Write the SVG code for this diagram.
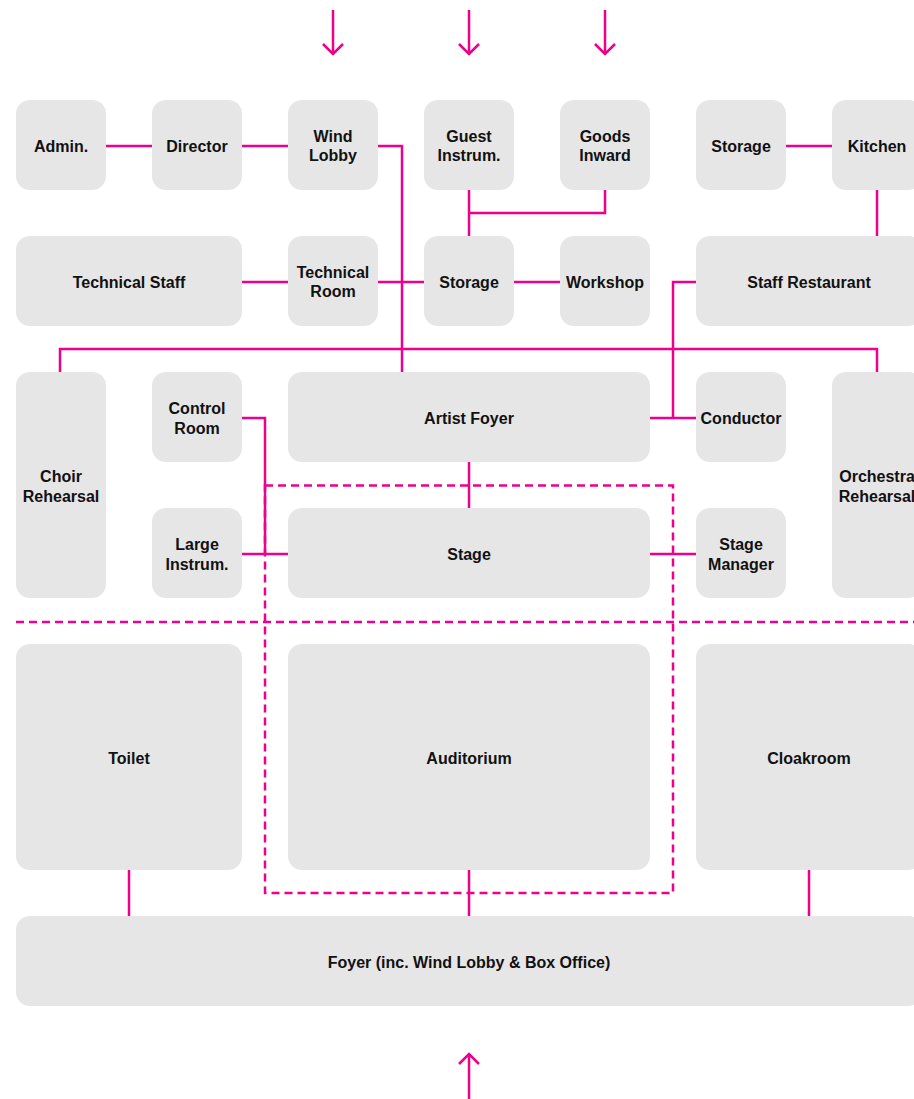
<svg xmlns="http://www.w3.org/2000/svg" width="914" height="1099" viewBox="0 0 914 1099">
<defs>
<style>
.n rect{fill:#e6e6e6}
.n text{font-family:"Liberation Sans",Arial,sans-serif;font-weight:bold;font-size:16px;fill:#111;text-anchor:middle}
.c{stroke:#ec008c;stroke-width:2.5;fill:none}
.d{stroke:#ec008c;stroke-width:2.5;fill:none;stroke-dasharray:8 5}
</style>
</defs>
<rect width="914" height="1099" fill="#fff"/>
<g id="connectors">
<path class="c" d="M106 146H152M242 146H288M378 146H402V372"/>
<path class="c" d="M242 282H288M378 282H424M514 282H560"/>
<path class="c" d="M469 190V236M469 213H605V190"/>
<path class="c" d="M786 146H832M877 190V236"/>
<path class="c" d="M696 282H673V418M650 418H696"/>
<path class="c" d="M60 372V349H877V372"/>
<path class="c" d="M242 418H265V554M242 554H288"/>
<path class="c" d="M469 462V508M650 554H696"/>
<path class="c" d="M469 870V916M129 870V916M809 870V916"/>
<path class="d" d="M16 622H914"/>
<path class="d" d="M265 485.5H673V893H265Z"/>
<path class="c" d="M333 10V54M323 44L333 54L343 44"/>
<path class="c" d="M469 10V54M459 44L469 54L479 44"/>
<path class="c" d="M605 10V54M595 44L605 54L615 44"/>
<path class="c" d="M469 1099V1054M459 1064L469 1054L479 1064"/>
</g>
<g id="admin" class="n"><rect x="16" y="100" width="90" height="90" rx="14"/><text x="61" y="151.5">Admin.</text></g>
<g id="director" class="n"><rect x="152" y="100" width="90" height="90" rx="14"/><text x="197" y="151.5">Director</text></g>
<g id="wind-lobby" class="n"><rect x="288" y="100" width="90" height="90" rx="14"/><text x="333" y="142">Wind</text><text x="333" y="161">Lobby</text></g>
<g id="guest-instrum" class="n"><rect x="424" y="100" width="90" height="90" rx="14"/><text x="469" y="142">Guest</text><text x="469" y="161">Instrum.</text></g>
<g id="goods-inward" class="n"><rect x="560" y="100" width="90" height="90" rx="14"/><text x="605" y="142">Goods</text><text x="605" y="161">Inward</text></g>
<g id="storage-top" class="n"><rect x="696" y="100" width="90" height="90" rx="14"/><text x="741" y="151.5">Storage</text></g>
<g id="kitchen" class="n"><rect x="832" y="100" width="90" height="90" rx="14"/><text x="877" y="151.5">Kitchen</text></g>
<g id="technical-staff" class="n"><rect x="16" y="236" width="226" height="90" rx="14"/><text x="129" y="287.5">Technical Staff</text></g>
<g id="technical-room" class="n"><rect x="288" y="236" width="90" height="90" rx="14"/><text x="333" y="278">Technical</text><text x="333" y="297">Room</text></g>
<g id="storage" class="n"><rect x="424" y="236" width="90" height="90" rx="14"/><text x="469" y="287.5">Storage</text></g>
<g id="workshop" class="n"><rect x="560" y="236" width="90" height="90" rx="14"/><text x="605" y="287.5">Workshop</text></g>
<g id="staff-restaurant" class="n"><rect x="696" y="236" width="226" height="90" rx="14"/><text x="809" y="287.5">Staff Restaurant</text></g>
<g id="choir-rehearsal" class="n"><rect x="16" y="372" width="90" height="226" rx="14"/><text x="61" y="482">Choir</text><text x="61" y="502">Rehearsal</text></g>
<g id="control-room" class="n"><rect x="152" y="372" width="90" height="90" rx="14"/><text x="197" y="414">Control</text><text x="197" y="434">Room</text></g>
<g id="artist-foyer" class="n"><rect x="288" y="372" width="362" height="90" rx="14"/><text x="469" y="423.5">Artist Foyer</text></g>
<g id="conductor" class="n"><rect x="696" y="372" width="90" height="90" rx="14"/><text x="741" y="423.5">Conductor</text></g>
<g id="orchestra-rehearsal" class="n"><rect x="832" y="372" width="90" height="226" rx="14"/><text x="877" y="482">Orchestra</text><text x="877" y="502">Rehearsal</text></g>
<g id="large-instrum" class="n"><rect x="152" y="508" width="90" height="90" rx="14"/><text x="197" y="550">Large</text><text x="197" y="570">Instrum.</text></g>
<g id="stage" class="n"><rect x="288" y="508" width="362" height="90" rx="14"/><text x="469" y="559.5">Stage</text></g>
<g id="stage-manager" class="n"><rect x="696" y="508" width="90" height="90" rx="14"/><text x="741" y="550">Stage</text><text x="741" y="570">Manager</text></g>
<g id="toilet" class="n"><rect x="16" y="644" width="226" height="226" rx="14"/><text x="129" y="763.5">Toilet</text></g>
<g id="auditorium" class="n"><rect x="288" y="644" width="362" height="226" rx="14"/><text x="469" y="763.5">Auditorium</text></g>
<g id="cloakroom" class="n"><rect x="696" y="644" width="226" height="226" rx="14"/><text x="809" y="763.5">Cloakroom</text></g>
<g id="foyer" class="n"><rect x="16" y="916" width="906" height="90" rx="14"/><text x="469" y="967.5">Foyer (inc. Wind Lobby &amp; Box Office)</text></g>
</svg>
